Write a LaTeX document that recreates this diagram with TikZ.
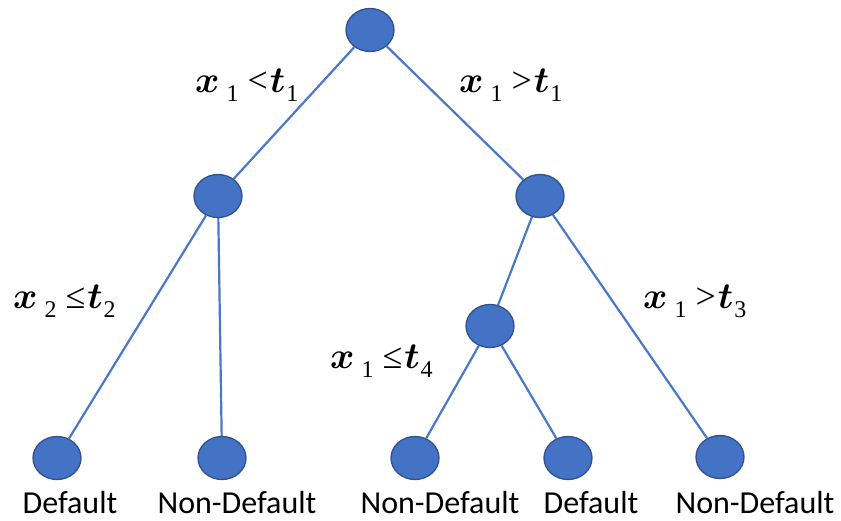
\documentclass[tikz,border=0pt]{standalone}
\usepackage{amsmath,bm,graphicx}
\usepackage{fontspec}
\setmainfont{Liberation Serif}
\newfontfamily\leaffont{Carlito}
\usetikzlibrary{shapes.geometric,backgrounds}
\definecolor{nodefill}{HTML}{4472C4}
\definecolor{nodeline}{HTML}{2F528F}
\definecolor{edgecol}{HTML}{4A78C8}
\newcommand{\bvar}[1]{\scalebox{3.7}{$\bm{#1}$}}
\newcommand{\lsub}[1]{\raisebox{-9pt}{\fontsize{24}{24}\selectfont #1}}
\newcommand{\lrel}[1]{{\fontsize{36}{36}\selectfont #1}}
\newcommand{\mlab}[3]{\bvar{x}\hspace{7pt}\lsub{#1}\hspace{9pt}\lrel{#2}\hspace{2pt}\bvar{t}\hspace{1pt}\lsub{#3}}
\begin{document}
\begin{tikzpicture}[x=1pt,y=-1pt,
  tnode/.style={ellipse,draw=nodeline,fill=nodefill,line width=1.3pt,minimum width=48pt,minimum height=43pt,inner sep=0pt},
  edge/.style={draw=edgecol,line width=2.2pt},
  leaflabel/.style={anchor=base,inner sep=0pt,font=\leaffont\fontsize{32}{32}\selectfont},
  condlabel/.style={anchor=base west,inner sep=0pt}]
\useasboundingbox (0,0) rectangle (841,520);
\node[tnode] (root) at (370,30) {};
\node[tnode] (L) at (218,196) {};
\node[tnode] (R) at (540,196) {};
\node[tnode] (M) at (490,326) {};
\node[tnode] (l1) at (57,458) {};
\node[tnode] (l2) at (222,458) {};
\node[tnode] (l3) at (415,458) {};
\node[tnode] (l4) at (568,458) {};
\node[tnode] (l5) at (720,457) {};
\begin{pgfonlayer}{background}
\draw[edge] (root) -- (L);
\draw[edge] (root) -- (R);
\draw[edge] (L) -- (l1);
\draw[edge] (L) -- (l2);
\draw[edge] (R) -- (M);
\draw[edge] (R) -- (l5);
\draw[edge] (M) -- (l3);
\draw[edge] (M) -- (l4);
\end{pgfonlayer}
\node[leaflabel] (t1) at (70,513) {Default};
\node[leaflabel] (t2) at (237,513) {Non-Default};
\node[leaflabel] (t3) at (440,513) {Non-Default};
\node[leaflabel] (t4) at (591,513) {Default};
\node[leaflabel] (t5) at (755,513) {Non-Default};
\node[condlabel] (c1) at (195,92) {\mlab{1}{<}{1}};
\node[condlabel] (c2) at (459,92) {\mlab{1}{>}{1}};
\node[condlabel] (c3) at (13,308) {\mlab{2}{≤}{2}};
\node[condlabel] (c4) at (643,308) {\mlab{1}{>}{3}};
\node[condlabel] (c5) at (330,368) {\mlab{1}{≤}{4}};
\end{tikzpicture}
\end{document}
